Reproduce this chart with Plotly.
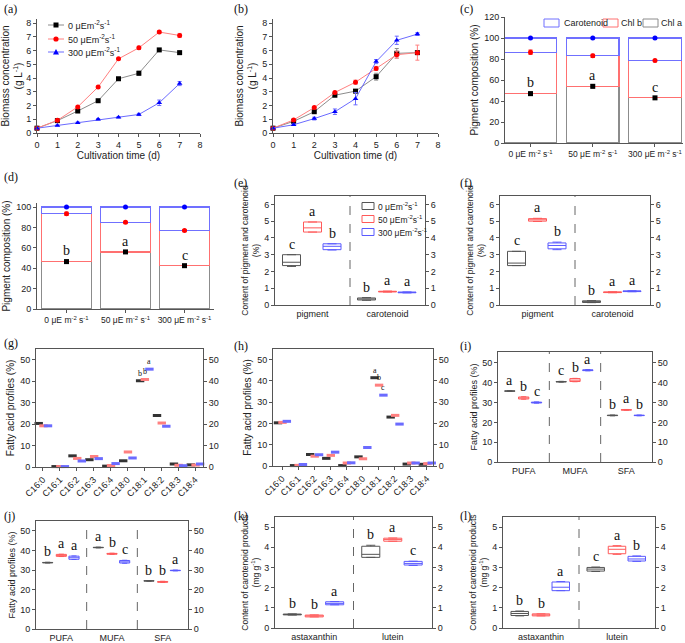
import plotly.graph_objects as go

W, H = 685, 643

# ---------------- data ----------------
days = [0, 1, 2, 3, 4, 5, 6, 7]
series_names = ["0 μEm<sup>-2</sup>s<sup>-1</sup>", "50 μEm<sup>-2</sup>s<sup>-1</sup>", "300 μEm<sup>-2</sup>s<sup>-1</sup>"]

a_0 = [0.35, 0.90, 1.60, 2.35, 3.95, 4.35, 6.05, 5.85]
a_50 = [0.35, 0.92, 1.90, 3.35, 5.40, 6.20, 7.35, 7.10]
a_300 = [0.35, 0.55, 0.75, 1.00, 1.15, 1.35, 2.20, 3.60]
a_0_err = [0.02, 0.03, 0.05, 0.05, 0.08, 0.15, 0.10, 0.10]
a_50_err = [0.02, 0.03, 0.05, 0.05, 0.05, 0.12, 0.10, 0.15]
a_300_err = [0.02, 0.03, 0.05, 0.05, 0.05, 0.08, 0.20, 0.15]

b_0 = [0.35, 0.85, 1.55, 2.75, 3.05, 4.10, 5.80, 5.85]
b_50 = [0.35, 0.95, 1.85, 2.95, 3.70, 4.70, 5.70, 5.85]
b_300 = [0.35, 0.60, 1.05, 1.55, 2.50, 5.20, 6.75, 7.20]
b_0_err = [0.02, 0.05, 0.05, 0.08, 0.08, 0.25, 0.35, 0.10]
b_50_err = [0.02, 0.05, 0.05, 0.08, 0.15, 0.15, 0.25, 0.55]
b_300_err = [0.02, 0.05, 0.10, 0.20, 0.45, 0.15, 0.30, 0.10]

light_labels = ["0 μE m<sup>-2</sup> s<sup>-1</sup>", "50 μE m<sup>-2</sup> s<sup>-1</sup>", "300 μE m<sup>-2</sup> s<sup>-1</sup>"]
pigment_names = ["Chl a", "Chl b", "Carotenoid"]
c_chla = [47.0, 54.0, 43.0]
c_chlb = [39.5, 29.0, 35.5]
c_car = [13.5, 17.0, 21.5]
c_chla_err = [1.5, 1.5, 1.0]
c_chlb_err = [2.0, 1.5, 1.0]
c_letters = ["b", "a", "c"]

d_chla = [46.5, 56.0, 42.5]
d_chlb = [47.0, 29.0, 34.5]
d_car = [6.5, 15.0, 23.0]
d_chla_err = [1.5, 1.0, 1.0]
d_chlb_err = [1.5, 1.0, 1.0]
d_letters = ["b", "a", "c"]

pig_cats = ["pigment", "carotenoid"]
e_stats = {
    0: dict(lo=[2.30, 0.28], q1=[2.35, 0.30], med=[2.55, 0.35], q3=[3.00, 0.42], hi=[3.00, 0.44], lt=["c", "b"]),
    1: dict(lo=[4.35, 0.77], q1=[4.35, 0.78], med=[4.60, 0.80], q3=[4.95, 0.82], hi=[4.95, 0.83], lt=["a", "a"]),
    2: dict(lo=[3.28, 0.72], q1=[3.30, 0.73], med=[3.50, 0.75], q3=[3.65, 0.77], hi=[3.65, 0.78], lt=["b", "a"]),
}
f_stats = {
    0: dict(lo=[2.35, 0.14], q1=[2.35, 0.15], med=[2.50, 0.20], q3=[3.20, 0.25], hi=[3.20, 0.26], lt=["c", "b"]),
    1: dict(lo=[4.98, 0.73], q1=[5.00, 0.74], med=[5.08, 0.76], q3=[5.15, 0.78], hi=[5.17, 0.79], lt=["a", "a"]),
    2: dict(lo=[3.30, 0.79], q1=[3.35, 0.80], med=[3.55, 0.82], q3=[3.70, 0.84], hi=[3.75, 0.85], lt=["b", "a"]),
}

fa_cats = ["C16:0", "C16:1", "C16:2", "C16:3", "C16:4", "C18:0", "C18:1", "C18:2", "C18:3", "C18:4"]
g_0 = [20.3, 0.2, 5.2, 3.4, 0.4, 2.9, 40.2, 24.0, 1.4, 1.0]
g_50 = [19.2, 0.2, 4.0, 4.9, 0.7, 7.0, 40.8, 20.5, 0.8, 0.9]
g_300 = [19.2, 0.2, 2.8, 3.9, 1.6, 4.2, 45.6, 19.0, 0.6, 1.4]
g_letters = {0: (6, "b"), 1: (6, "b"), 2: (6, "a")}
h_0 = [20.3, 0.2, 5.4, 3.6, 0.2, 4.3, 41.5, 23.0, 0.9, 0.8]
h_50 = [20.5, 0.3, 4.6, 5.0, 1.4, 3.4, 38.0, 23.8, 1.4, 1.1]
h_300 = [21.0, 0.7, 5.3, 6.5, 1.5, 8.7, 33.3, 19.7, 1.4, 1.4]
h_letters = {0: (6, "a"), 1: (6, "b"), 2: (6, "c")}

ufa_cats = ["PUFA", "MUFA", "SFA"]
i_stats = {
    0: dict(lo=[35.6, 40.3, 23.3], q1=[35.7, 40.4, 23.4], med=[35.8, 40.5, 23.5], q3=[35.9, 40.6, 23.6], hi=[36.0, 40.7, 23.7], lt=["a", "c", "b"]),
    1: dict(lo=[31.7, 40.5, 26.1], q1=[31.8, 40.6, 26.2], med=[32.3, 41.3, 26.3], q3=[32.8, 42.1, 26.4], hi=[32.9, 42.2, 26.5], lt=["b", "b", "a"]),
    2: dict(lo=[29.7, 46.0, 23.3], q1=[29.8, 46.1, 23.4], med=[30.0, 46.3, 23.5], q3=[30.2, 46.5, 23.6], hi=[30.3, 46.6, 23.7], lt=["c", "a", "b"]),
}
j_stats = {
    0: dict(lo=[33.6, 41.3, 24.3], q1=[33.7, 41.4, 24.4], med=[33.8, 41.5, 24.5], q3=[33.9, 41.6, 24.6], hi=[34.0, 41.7, 24.7], lt=["b", "a", "b"]),
    1: dict(lo=[36.9, 38.0, 23.7], q1=[37.0, 38.1, 23.8], med=[37.5, 38.3, 24.0], q3=[38.0, 38.5, 24.2], hi=[38.1, 38.6, 24.3], lt=["a", "b", "b"]),
    2: dict(lo=[35.4, 33.5, 29.6], q1=[35.5, 33.6, 29.7], med=[36.3, 34.2, 29.8], q3=[37.1, 34.9, 29.9], hi=[37.2, 35.0, 30.0], lt=["a", "c", "a"]),
}

car_cats = ["astaxanthin", "lutein"]
k_stats = {
    0: dict(lo=[0.64, 3.50], q1=[0.65, 3.50], med=[0.67, 3.65], q3=[0.69, 4.05], hi=[0.70, 4.10], lt=["b", "b"]),
    1: dict(lo=[0.55, 4.30], q1=[0.55, 4.30], med=[0.60, 4.38], q3=[0.64, 4.45], hi=[0.65, 4.46], lt=["b", "a"]),
    2: dict(lo=[1.15, 3.10], q1=[1.15, 3.12], med=[1.22, 3.20], q3=[1.30, 3.30], hi=[1.31, 3.31], lt=["a", "c"]),
}
l_stats = {
    0: dict(lo=[0.60, 2.80], q1=[0.62, 2.82], med=[0.72, 2.92], q3=[0.82, 3.00], hi=[0.84, 3.02], lt=["b", "c"]),
    1: dict(lo=[0.60, 3.65], q1=[0.60, 3.68], med=[0.65, 3.90], q3=[0.70, 4.05], hi=[0.70, 4.08], lt=["b", "a"]),
    2: dict(lo=[1.85, 3.30], q1=[1.85, 3.32], med=[2.02, 3.42], q3=[2.28, 3.55], hi=[2.30, 3.57], lt=["a", "b"]),
}

# ---------------- styles ----------------
SANS = "Liberation Sans, Arial, sans-serif"
SERIF = "Liberation Serif, Times New Roman, serif"
MK = ["#000000", "#ff0000", "#0000ff"]
LN = ["#8c8c8c", "#ff8080", "#6b6bff"]
BX = ["#555555", "#ff5a5a", "#5a5aff"]
PIGC = ["#8c8c8c", "#ff7070", "#7070ff"]
SYM = ["square", "circle", "triangle-up"]
AX = "#555555"

fig = go.Figure()


def ax_id(i):
    return "" if i == 1 else str(i)


def base_axis(**kw):
    d = dict(showline=True, linecolor=AX, linewidth=1, ticks="outside", ticklen=3,
             tickcolor=AX, tickwidth=1, showgrid=False, zeroline=False, automargin=False,
             tickfont=dict(family=SANS, size=9, color="#222"),
             title_font=dict(family=SANS, size=10, color="#222"))
    d.update(kw)
    return d


def add_panel(i, xpx, ypx, xcfg, ycfg, right=None):
    fig.update_layout({
        f"xaxis{ax_id(i)}": base_axis(domain=[xpx[0] / W, xpx[1] / W], anchor=f"y{ax_id(i)}", **xcfg),
        f"yaxis{ax_id(i)}": base_axis(domain=[1 - ypx[1] / H, 1 - ypx[0] / H], anchor=f"x{ax_id(i)}", **ycfg),
    })
    if right is not None:
        fig.update_layout({
            f"yaxis{right}": base_axis(overlaying=f"y{ax_id(i)}", side="right", anchor=f"x{ax_id(i)}",
                                       range=ycfg["range"], tickvals=ycfg.get("tickvals")),
        })
        # empty trace so the right-hand axis is drawn
        fig.add_trace(go.Scatter(x=[], y=[], xaxis=f"x{ax_id(i)}", yaxis=f"y{right}",
                                 showlegend=False, hoverinfo="skip"))


def xy(i):
    return f"x{ax_id(i)}", f"y{ax_id(i)}"


def P(x, y):
    return x / W, 1 - y / H


# ---- (a), (b) growth curves ----
for pi, (xp, sets, errs) in enumerate([
        ((37, 200), [a_0, a_50, a_300], [a_0_err, a_50_err, a_300_err]),
        ((273, 438), [b_0, b_50, b_300], [b_0_err, b_50_err, b_300_err])]):
    i = pi + 1
    add_panel(i, xp, (19, 133),
              dict(range=[0, 8], tickvals=list(range(9)), title_text="Cultivation time (d)", title_standoff=3),
              dict(range=[0, 8.3], tickvals=list(range(9)),
                   title_text="Biomass concentration<br>(g L<sup>-1</sup>)", title_standoff=3))
    xa, ya = xy(i)
    for s in range(3):
        fig.add_trace(go.Scatter(
            x=days, y=sets[s], xaxis=xa, yaxis=ya, mode="lines+markers", name=series_names[s],
            line=dict(color=LN[s], width=1), marker=dict(color=MK[s], symbol=SYM[s], size=5),
            error_y=dict(type="data", array=errs[s], color=LN[s], thickness=1, width=2),
            showlegend=False, cliponaxis=False))

# custom legend for (a)
for s, yy in enumerate([25, 39, 52]):
    x0, y0 = P(48, yy)
    x1, _ = P(64, yy)
    fig.add_shape(type="line", xref="paper", yref="paper", x0=x0, x1=x1, y0=y0, y1=y0,
                  line=dict(color=LN[s], width=1))
    cx, cy = 56, yy
    if s == 0:
        ax0, ay0 = P(cx - 2.5, cy + 2.5)
        ax1, ay1 = P(cx + 2.5, cy - 2.5)
        fig.add_shape(type="rect", xref="paper", yref="paper", x0=ax0, x1=ax1, y0=ay0, y1=ay1,
                      fillcolor=MK[s], line=dict(color=MK[s], width=0))
    elif s == 1:
        ax0, ay0 = P(cx - 2.6, cy + 2.6)
        ax1, ay1 = P(cx + 2.6, cy - 2.6)
        fig.add_shape(type="circle", xref="paper", yref="paper", x0=ax0, x1=ax1, y0=ay0, y1=ay1,
                      fillcolor=MK[s], line=dict(color=MK[s], width=0))
    else:
        p1, p2, p3 = P(cx - 3, cy + 2.5), P(cx + 3, cy + 2.5), P(cx, cy - 3)
        fig.add_shape(type="path", xref="paper", yref="paper",
                      path=f"M {p1[0]},{p1[1]} L {p2[0]},{p2[1]} L {p3[0]},{p3[1]} Z",
                      fillcolor=MK[s], line=dict(color=MK[s], width=0))
    tx, ty = P(66, yy)
    fig.add_annotation(x=tx, y=ty, xref="paper", yref="paper", text=series_names[s], showarrow=False,
                       xanchor="left", yanchor="middle", font=dict(family=SANS, size=9, color="#222"))

# ---- (c), (d) pigment composition ----
for pi, (xp, yp, yr, chla, chlb, car, ea, eb, lets) in enumerate([
        ((505, 683), (17, 143), [0, 120], c_chla, c_chlb, c_car, c_chla_err, c_chlb_err, c_letters),
        ((37, 214), (203, 309), [0, 104], d_chla, d_chlb, d_car, d_chla_err, d_chlb_err, d_letters)]):
    i = 3 + pi
    xr = [-0.41, 2.45] if pi == 0 else [-0.5, 2.5]
    add_panel(i, xp, yp,
              dict(range=xr, tickvals=[0, 1, 2], ticktext=light_labels, tickangle=0,
                   tickfont=dict(family=SANS, size=8.5, color="#222")),
              dict(range=yr, tickvals=[0, 20, 40, 60, 80, 100, 120] if pi == 0 else [0, 20, 40, 60, 80, 100],
                   title_text="Pigment composition (%)", title_standoff=3))
    xa, ya = xy(i)
    xs = [0, 1, 2]
    for name, vals, col in zip(pigment_names, [chla, chlb, car], PIGC):
        fig.add_trace(go.Bar(x=xs, y=vals, xaxis=xa, yaxis=ya, name=name, width=0.84,
                             marker=dict(color="rgba(255,255,255,0)", line=dict(color=col, width=1.2)),
                             showlegend=False))
    tot_b = [p + q for p, q in zip(chla, chlb)]
    tot_c = [p + q + r for p, q, r in zip(chla, chlb, car)]
    fig.add_trace(go.Scatter(x=xs, y=chla, xaxis=xa, yaxis=ya, mode="markers", showlegend=False,
                             marker=dict(color="#000", symbol="square", size=5),
                             error_y=dict(type="data", array=ea, color="#000", thickness=1, width=2)))
    fig.add_trace(go.Scatter(x=xs, y=tot_b, xaxis=xa, yaxis=ya, mode="markers", showlegend=False,
                             marker=dict(color="#ff0000", symbol="circle", size=5),
                             error_y=dict(type="data", array=eb, color="#ff0000", thickness=1, width=2)))
    fig.add_trace(go.Scatter(x=xs, y=tot_c, xaxis=xa, yaxis=ya, mode="markers", showlegend=False,
                             marker=dict(color="#0000ff", symbol="circle", size=5), cliponaxis=False))
    for k in range(3):
        fig.add_annotation(x=xs[k], y=chla[k] + ea[k], xref=xa, yref=ya, text=lets[k], showarrow=False,
                           yanchor="bottom", yshift=0, font=dict(family=SERIF, size=14, color="#111"))

# custom legend for (c)
for k, (ix0, tx) in zip([2, 1, 0], [(544, 562), (603, 619), (643, 659)]):
    a0, b0 = P(ix0, 19)
    a1, b1 = P(ix0 + 15, 27)
    fig.add_shape(type="rect", xref="paper", yref="paper", x0=a0, x1=a1, y0=b0, y1=b1,
                  fillcolor="white", line=dict(color=PIGC[k], width=1))
    u, v = P(tx, 23)
    fig.add_annotation(x=u, y=v, xref="paper", yref="paper", text=pigment_names[k], showarrow=False,
                       xanchor="left", yanchor="middle", font=dict(family=SANS, size=9, color="#222"))


# ---- box panels ----
def box_panel(i, xp, yp, yr, ytick, cats, stats, rid, title, offs, bw, let_size=14, dividers=(), tsize=9):
    xr = [-0.5, len(cats) - 0.5]
    add_panel(i, xp, yp,
              dict(range=xr, tickvals=list(range(len(cats))), ticktext=cats, ticks="", mirror=True),
              dict(range=yr, tickvals=ytick, title_text=title, title_standoff=3, mirror=True,
                   title_font=dict(family=SANS, size=tsize, color="#222")),
              right=rid)
    xa, ya = xy(i)
    for s in range(3):
        st = stats[s]
        xs = [c + offs[s] for c in range(len(cats))]
        fig.add_trace(go.Box(
            x=xs, q1=st["q1"], median=st["med"], q3=st["q3"], lowerfence=st["lo"], upperfence=st["hi"],
            xaxis=xa, yaxis=ya, width=bw, name=series_names[s], line=dict(color=BX[s], width=1),
            fillcolor="rgba(255,255,255,0)", whiskerwidth=0.5, showlegend=False, hoverinfo="skip"))
        for c in range(len(cats)):
            fig.add_annotation(x=xs[c], y=st["hi"][c], xref=xa, yref=ya, text=st["lt"][c], showarrow=False,
                               yanchor="bottom", yshift=1, font=dict(family=SERIF, size=let_size, color="#111"))
    for dv in dividers:
        fig.add_shape(type="line", xref=xa, yref=f"{ya} domain", x0=dv, x1=dv, y0=0, y1=1,
                      line=dict(color="#666", width=1, dash="dash"))


offs2 = [-0.28, 0.0, 0.26]
box_panel(5, (275, 425), (196, 305), [0, 6.5], [0, 1, 2, 3, 4, 5, 6], pig_cats, e_stats, 13,
          "Content of pigment and carotenoid<br>(%)", offs2, 0.24, dividers=[0.5], tsize=8.5)
box_panel(6, (500, 650), (196, 305), [0, 6.5], [0, 1, 2, 3, 4, 5, 6], pig_cats, f_stats, 14,
          "Content of pigment and carotenoid<br>(%)", offs2, 0.24, dividers=[0.5], tsize=8.5)
offs3 = [-0.27, 0.0, 0.25]
box_panel(9, (498, 652), (352, 462), [0, 55.5], [0, 10, 20, 30, 40, 50], ufa_cats, i_stats, 17,
          "Fatty acid profiles (%)", offs3, 0.2, dividers=[0.5, 1.5])
box_panel(10, (36, 188), (521, 629), [0, 55], [0, 10, 20, 30, 40, 50], ufa_cats, j_stats, 18,
          "Fatty acid profiles (%)", offs3, 0.2, dividers=[0.5, 1.5])
box_panel(11, (275, 432), (517, 628), [0, 5.5], [0, 1, 2, 3, 4, 5], car_cats, k_stats, 19,
          "Content of carotenoid products<br>(mg g<sup>-1</sup>)", offs2, 0.23, dividers=[0.5], tsize=8.5)
box_panel(12, (503, 655), (517, 628), [0, 5.5], [0, 1, 2, 3, 4, 5], car_cats, l_stats, 20,
          "Content of carotenoid products<br>(mg g<sup>-1</sup>)", offs2, 0.23, dividers=[0.5], tsize=8.5)

# custom legend for (e)
for s, yy in enumerate([206, 219, 232]):
    a0, b0 = P(362, yy - 3.5)
    a1, b1 = P(374, yy + 3.5)
    fig.add_shape(type="rect", xref="paper", yref="paper", x0=a0, x1=a1, y0=b0, y1=b1,
                  fillcolor="white", line=dict(color=BX[s], width=1))
    u, v = P(376, yy)
    fig.add_annotation(x=u, y=v, xref="paper", yref="paper", text=series_names[s], showarrow=False,
                       xanchor="left", yanchor="middle", font=dict(family=SANS, size=8.5, color="#222"))

# ---- (g), (h) fatty acid profiles ----
for pi, (i, xp, yp, xr, sets, lets, rid) in enumerate([
        (7, (36, 203), (349, 467), [-0.41, 9.47], [g_0, g_50, g_300], g_letters, 15),
        (8, (273, 433), (349, 466), [-0.56, 9.38], [h_0, h_50, h_300], h_letters, 16)]):
    add_panel(i, xp, yp,
              dict(range=xr, tickvals=list(range(10)), ticktext=fa_cats, tickangle=-45, mirror=True),
              dict(range=[0, 55], tickvals=[0, 10, 20, 30, 40, 50], title_text="Fatty acid profiles (%)",
                   title_standoff=3, mirror=True),
              right=rid)
    xa, ya = xy(i)
    fo = [-0.25, 0.03, 0.3]
    for s in range(3):
        xs = [c + fo[s] for c in range(10)]
        fig.add_trace(go.Scatter(x=xs, y=sets[s], xaxis=xa, yaxis=ya, mode="markers", showlegend=False,
                                 marker=dict(symbol="line-ew", size=6, line=dict(color=LN[s] if s else "#333", width=3)),
                                 cliponaxis=False))
        idx, lt = lets[s]
        fig.add_annotation(x=xs[idx], y=sets[s][idx], xref=xa, yref=ya, text=lt, showarrow=False,
                           yanchor="bottom", yshift=1, font=dict(family=SERIF, size=8, color="#111"))

# ---- panel labels ----
for txt, px, py in [("(a)", 2, 9), ("(b)", 232, 9), ("(c)", 458, 9),
                    ("(d)", 2, 177), ("(e)", 232, 183), ("(f)", 458, 183),
                    ("(g)", 2, 343), ("(h)", 232, 346), ("(i)", 458, 346),
                    ("(j)", 2, 516), ("(k)", 232, 516), ("(l)", 458, 516)]:
    u, v = P(px, py)
    fig.add_annotation(x=u, y=v, xref="paper", yref="paper", text=txt, showarrow=False,
                       xanchor="left", yanchor="middle", font=dict(family=SERIF, size=12, color="#111"))

fig.update_layout(
    width=W, height=H, margin=dict(l=0, r=0, t=0, b=0, autoexpand=False),
    paper_bgcolor="white", plot_bgcolor="white", barmode="stack", boxmode="overlay",
    showlegend=False,
)

fig.write_html("out.html", config={"displayModeBar": False},
               post_script="document.body.style.margin='0px';document.body.style.overflow='hidden';")
